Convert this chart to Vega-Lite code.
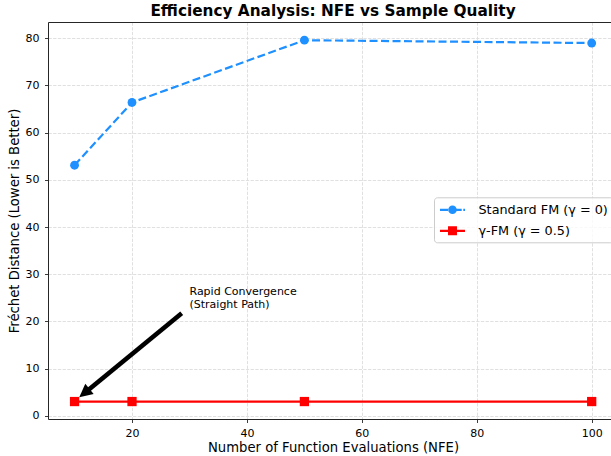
{
  "$schema": "https://vega.github.io/schema/vega-lite/v6.json",
  "width": 563,
  "height": 397,
  "autosize": {"type": "none"},
  "padding": {"left": 48, "top": 22, "right": 0, "bottom": 37},
  "background": "white",
  "title": {
    "text": "Efficiency Analysis: NFE vs Sample Quality",
    "font": "DejaVu Sans",
    "fontSize": 15.3,
    "fontWeight": "bold",
    "color": "#000000",
    "anchor": "middle",
    "frame": "group",
    "baseline": "alphabetic",
    "offset": -9,
    "dx": 3.5
  },
  "datasets": {
    "main": [
      {"nfe": 10, "fd": 53.1, "series": "Standard FM (γ = 0)"},
      {"nfe": 20, "fd": 66.4, "series": "Standard FM (γ = 0)"},
      {"nfe": 50, "fd": 79.6, "series": "Standard FM (γ = 0)"},
      {"nfe": 100, "fd": 79.0, "series": "Standard FM (γ = 0)"},
      {"nfe": 10, "fd": 3.0, "series": "γ-FM (γ = 0.5)"},
      {"nfe": 20, "fd": 3.0, "series": "γ-FM (γ = 0.5)"},
      {"nfe": 50, "fd": 3.0, "series": "γ-FM (γ = 0.5)"},
      {"nfe": 100, "fd": 3.0, "series": "γ-FM (γ = 0.5)"}
    ],
    "arrow": [{"nfe": 28.65, "fd": 21.7, "nfe2": 12.44, "fd2": 5.51}],
    "head": [{"nfe": 10.82, "fd": 3.9}],
    "note": [{"nfe": 30, "fd": 27.43, "label": "Rapid Convergence\n(Straight Path)"}]
  },
  "config": {
    "view": {"stroke": null},
    "axis": {
      "domainColor": "#262626",
      "domainWidth": 1,
      "tickColor": "#262626",
      "tickWidth": 0.9,
      "tickSize": 3.5,
      "labelFont": "DejaVu Sans",
      "labelFontSize": 11,
      "labelColor": "#000000",
      "titleFont": "DejaVu Sans",
      "titleFontSize": 13.2,
      "titleFontWeight": "normal",
      "titleColor": "#000000",
      "gridColor": "#dddddd",
      "gridDash": [3.3, 1.4],
      "gridWidth": 0.9
    }
  },
  "resolve": {"axis": {"x": "independent", "y": "independent"}},
  "encoding": {
    "x": {"field": "nfe", "type": "quantitative", "scale": {"domain": [5.378, 103.36], "nice": false, "zero": false}, "axis": null},
    "y": {"field": "fd", "type": "quantitative", "scale": {"domain": [-0.7, 83.46], "nice": false, "zero": false}, "axis": null}
  },
  "layer": [
    {
      "data": {"name": "main"},
      "transform": [{"filter": "datum.series === 'Standard FM (γ = 0)'"}],
      "mark": {"type": "line", "color": "#1E90FF", "strokeWidth": 2.2, "strokeDash": [8, 3.5]},
      "encoding": {
        "x": {
          "field": "nfe", "type": "quantitative",
          "scale": {"domain": [5.378, 103.36], "nice": false, "zero": false},
          "axis": {"orient": "bottom", "values": [20, 40, 60, 80, 100], "grid": true, "title": "Number of Function Evaluations (NFE)", "titlePadding": 3, "labelPadding": 4.5, "titleX": 285}
        },
        "y": {
          "field": "fd", "type": "quantitative",
          "scale": {"domain": [-0.7, 83.46], "nice": false, "zero": false},
          "axis": {"orient": "left", "values": [0, 10, 20, 30, 40, 50, 60, 70, 80], "grid": true, "title": "Fréchet Distance (Lower is Better)", "titlePadding": 4, "labelPadding": 5.5}
        }
      }
    },
    {
      "data": {"name": "main"},
      "transform": [{"filter": "datum.series === 'γ-FM (γ = 0.5)'"}],
      "mark": {"type": "line", "color": "#FF0000", "strokeWidth": 2.2},
      "encoding": {}
    },
    {
      "data": {"name": "main"},
      "transform": [{"filter": "datum.series === 'Standard FM (γ = 0)'"}],
      "mark": {"type": "point", "shape": "circle", "filled": true, "color": "#1E90FF", "size": 78, "opacity": 1},
      "encoding": {}
    },
    {
      "data": {"name": "main"},
      "transform": [{"filter": "datum.series === 'γ-FM (γ = 0.5)'"}],
      "mark": {"type": "point", "shape": "square", "filled": true, "color": "#FF0000", "size": 86, "opacity": 1},
      "encoding": {}
    },
    {
      "data": {"name": "arrow"},
      "mark": {"type": "rule", "color": "#000000", "strokeWidth": 4.6, "strokeCap": "butt"},
      "encoding": {
        "x2": {"field": "nfe2"},
        "y2": {"field": "fd2"}
      }
    },
    {
      "data": {"name": "head"},
      "mark": {"type": "point", "shape": "M0,0L0.943,1.886L-0.943,1.886Z", "filled": true, "color": "#000000", "size": 196, "angle": 230.6, "opacity": 1, "strokeWidth": 0},
      "encoding": {}
    },
    {
      "data": {"name": "note"},
      "mark": {"type": "text", "align": "left", "baseline": "top", "font": "DejaVu Sans", "fontSize": 11, "lineBreak": "\n", "lineHeight": 12.3, "color": "#000000"},
      "encoding": {"text": {"field": "label"}}
    },
    {
      "data": {"name": "main"},
      "transform": [{"filter": "false"}],
      "mark": {"type": "point", "filled": true, "opacity": 1},
      "encoding": {
        "x": {
          "field": "nfe", "type": "quantitative",
          "scale": {"domain": [5.378, 103.36], "nice": false, "zero": false},
          "axis": {"orient": "top", "labels": false, "ticks": false, "grid": false, "title": null, "domain": true}
        },
        "color": {
          "field": "series", "type": "nominal",
          "scale": {"domain": ["Standard FM (γ = 0)", "γ-FM (γ = 0.5)"], "range": ["#1E90FF", "#FF0000"]},
          "legend": {"title": null, "orient": "none", "legendX": 386, "legendY": 175.3, "padding": 4.5, "symbolSize": 256, "symbolStrokeWidth": 0, "symbolOffset": 6, "labelOffset": 18, "rowPadding": 6, "labelFont": "DejaVu Sans", "labelFontSize": 12.8, "labelColor": "#000000", "strokeColor": "#cccccc", "fillColor": "rgba(255,255,255,0.8)", "cornerRadius": 3}
        },
        "shape": {
          "field": "series", "type": "nominal",
          "scale": {"domain": ["Standard FM (γ = 0)", "γ-FM (γ = 0.5)"], "range": ["M-1.5625,-0.14H-0.5625V0.14H-1.5625Z M0,-0.14H1.15V0.14H0Z M1.35,-0.14H1.5625V0.14H1.35Z M0.54,0A0.54,0.54 0 1,1 -0.54,0A0.54,0.54 0 1,1 0.54,0Z", "M-1.5625,-0.14H1.5625V0.14H-1.5625Z M-0.56,-0.56H0.56V0.56H-0.56Z"]},
          "legend": {"title": null, "orient": "none", "legendX": 386, "legendY": 175.3, "padding": 4.5, "symbolSize": 256, "symbolStrokeWidth": 0, "symbolOffset": 6, "labelOffset": 18, "rowPadding": 6, "labelFont": "DejaVu Sans", "labelFontSize": 12.8, "labelColor": "#000000", "strokeColor": "#cccccc", "fillColor": "rgba(255,255,255,0.8)", "cornerRadius": 3}
        }
      }
    }
  ]
}
